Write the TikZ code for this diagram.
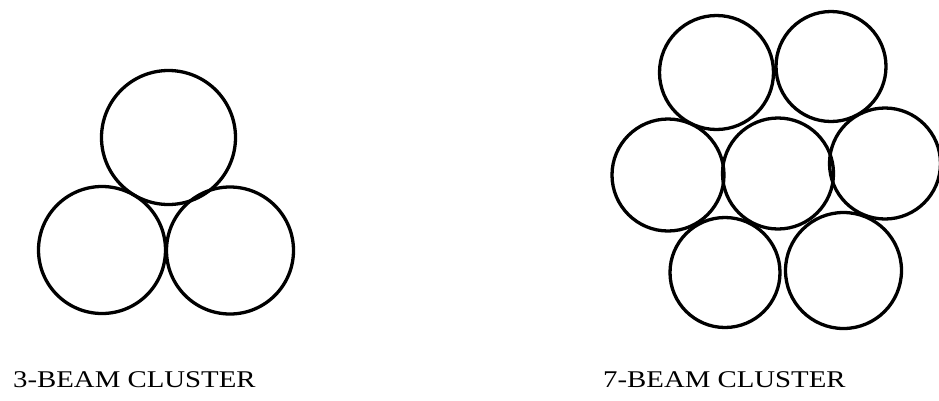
\documentclass[tikz,border=0pt]{standalone}
\usepackage{fontspec}
\newfontfamily\lblfont[FakeStretch=1.2]{Liberation Serif}
\begin{document}
\begin{tikzpicture}[x=1pt,y=-1pt,
  beam/.style={circle,draw=black,line width=3.3pt,minimum size=#1,inner sep=0pt},
  lbl/.style={anchor=base west,inner sep=0pt,font=\lblfont\fontsize{24}{28}\selectfont}]
\useasboundingbox (0,0) rectangle (939,400);
% 3-beam cluster
\node[beam=134pt] (t3) at (168.5,137.5) {};
\node[beam=127pt] (l3) at (102,250) {};
\node[beam=127pt] (r3) at (230,250.5) {};
\node[lbl] (cap3) at (13,387) {3-BEAM CLUSTER};
% 7-beam cluster
\node[beam=114pt] (tl7) at (716.5,72.5) {};
\node[beam=110pt] (tr7) at (831,66.5) {};
\node[beam=112pt] (ml7) at (668,175) {};
\node[beam=111pt] (c7) at (778,173.5) {};
\node[beam=111pt] (mr7) at (885,163.5) {};
\node[beam=110pt] (bl7) at (725,272.5) {};
\node[beam=116pt] (br7) at (843.5,270.5) {};
\node[lbl] (cap7) at (603,387) {7-BEAM CLUSTER};
\end{tikzpicture}
\end{document}
